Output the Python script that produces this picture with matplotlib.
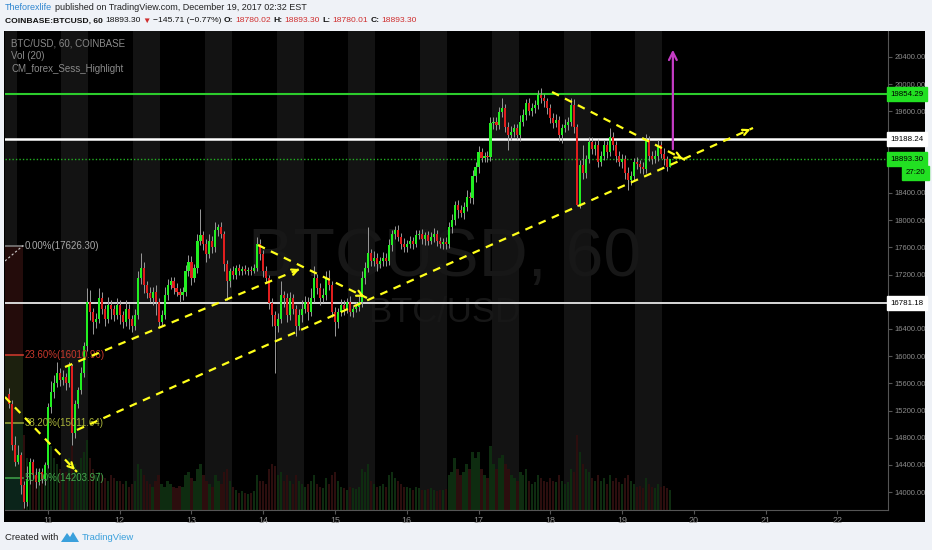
import matplotlib
matplotlib.use("Agg")
import matplotlib.pyplot as plt
from matplotlib.patches import Polygon
import numpy as np

W, H = 932, 550
FONT = ['Liberation Sans', 'DejaVu Sans']

# ---- hourly candles, Dec 10 11:00 -> Dec 19 16:00 (index 0 = Dec 10 11:00)
first_open = 15450
closes = (
    [15300, 14700, 14450, 14550, 14100, 13850, 14200, 14450, 14250, 14150, 14300, 14200, 14400] +
    [15250, 15480, 15600, 15750, 15650, 15700, 15600, 15850, 14870, 15300, 15500, 15760,
     16150, 16800, 16650, 16500, 16550, 16850, 16700, 16550, 16750, 16700, 16600, 16750] +
    [16600, 16500, 16700, 16550, 16450, 16600, 17150, 17300, 17050, 16930, 16850, 16950,
     16800, 16500, 16600, 16900, 17050, 17100, 17000, 16950, 16900, 16950, 17250, 17390] +
    [17150, 17300, 17700, 17780, 17650, 17500, 17700, 17600, 17850, 17900, 17800, 17350,
     17100, 17250, 17200, 17300, 17250, 17280, 17250, 17270, 17260, 17300, 17650, 17500] +
    [17250, 17150, 16780, 16600, 16450, 16550, 16900, 16850, 16600, 16850, 16700, 16450,
     16600, 16700, 16800, 16650, 16850, 17150, 17000, 16850, 16900, 17150, 17050, 16650] +
    [16500, 16650, 16750, 16700, 16800, 16650, 16700, 16720, 16800, 17150, 17300, 17520,
     17400, 17450, 17350, 17400, 17450, 17400, 17640, 17800, 17850, 17750, 17650, 17600] +
    [17650, 17700, 17650, 17780, 17800, 17720, 17780, 17700, 17750, 17800, 17700, 17650,
     17680, 17650, 17900, 18000, 18220, 18150, 18100, 18200, 18340, 18320, 18650, 18780] +
    [19000, 18920, 18950, 18930, 19430, 19450, 19400, 19590, 19650, 19370, 19250, 19300,
     19350, 19250, 19450, 19550, 19720, 19600, 19650, 19700, 19840, 19800, 19750, 19650] +
    [19500, 19430, 19480, 19250, 19350, 19400, 19450, 19700, 19370, 18230, 18810, 18700,
     18900, 19150, 19050, 19100, 18860, 18950, 19100, 19000, 19230, 19100, 18940, 18850] +
    [18900, 18700, 18590, 18650, 18850, 18830, 18780, 18750, 19180, 18950, 18900, 18950,
     19110, 18980, 18900, 18780.02, 18893.30]
)
# wick length above / below the candle body
wick_up = (
    [80, 60, 120, 150, 40, 60, 180, 60, 40, 100, 50, 60, 40] +
    [60, 150, 120, 170, 80, 100, 60, 60, 40, 60, 50, 80, 60, 200, 180, 60, 80, 150, 90, 60, 120, 80, 60, 100] +
    [80, 60, 120, 70, 50, 90, 100, 220, 80, 60, 90, 70, 100, 60, 80, 120, 90, 70, 60, 80, 60, 70, 90, 100] +
    [80, 60, 90, 390, 60, 80, 100, 60, 120, 50, 70, 40, 60, 50, 70, 40, 50, 40, 60, 40, 50, 60, 100, 80] +
    [60, 80, 50, 70, 60, 90, 200, 60, 80, 100, 70, 60, 90, 120, 80, 70, 150, 180, 60, 70, 100, 110, 120, 60] +
    [80, 60, 90, 70, 60, 80, 50, 70, 90, 100, 80, 380, 60, 90, 70, 60, 80, 70, 90, 60, 70, 80, 60, 90] +
    [60, 70, 50, 80, 60, 70, 50, 60, 70, 80, 60, 50, 60, 70, 80, 90, 60, 70, 80, 60, 100, 70, 90, 80] +
    [90, 60, 50, 70, 80, 60, 70, 80, 150, 60, 70, 80, 60, 70, 90, 80, 60, 70, 80, 60, 70, 100, 60, 50] +
    [60, 70, 80, 50, 60, 90, 70, 100, 80, 40, 80, 300, 60, 70, 80, 60, 90, 60, 80, 60, 130, 70, 60, 80] +
    [70, 60, 80, 70, 60, 80, 60, 70, 80, 60, 70, 80, 70, 60, 80, 50, 0]
)
wick_dn = (
    [60, 80, 60, 40, 120, 80, 50, 80, 60, 90, 40, 70, 100] +
    [50, 80, 100, 60, 90, 70, 100, 60, 170, 80, 60, 50, 70, 80, 120, 180, 90, 60, 80, 100, 60, 150, 80, 60] +
    [120, 80, 60, 150, 90, 60, 50, 90, 120, 80, 60, 100, 200, 70, 60, 50, 80, 60, 90, 70, 100, 80, 60, 70] +
    [100, 60, 80, 60, 90, 120, 60, 90, 70, 80, 60, 90, 270, 80, 60, 70, 50, 60, 40, 50, 60, 40, 50, 90] +
    [80, 70, 90, 150, 700, 100, 60, 120, 90, 70, 80, 150, 60, 90, 70, 120, 60, 50, 80, 100, 60, 70, 80, 70] +
    [210, 80, 60, 90, 70, 60, 80, 50, 60, 70, 90, 60, 80, 70, 90, 60, 70, 80, 60, 90, 70, 60, 80, 70] +
    [70, 60, 80, 50, 60, 70, 80, 60, 50, 70, 80, 60, 70, 80, 60, 90, 70, 120, 60, 80, 60, 70, 80, 90] +
    [80, 70, 60, 80, 60, 90, 70, 60, 80, 70, 220, 70, 80, 60, 90, 70, 80, 60, 70, 80, 60, 70, 80, 90] +
    [70, 80, 60, 90, 120, 60, 70, 60, 90, 20, 50, 100, 80, 60, 70, 90, 80, 60, 70, 80, 60, 70, 90, 60] +
    [80, 90, 140, 70, 60, 80, 90, 70, 60, 80, 70, 60, 80, 70, 90, 60, 0]
)
volumes = (
    [900, 1100, 1000, 800, 1200, 1300, 900, 700, 600, 650, 700, 600, 800] +
    [1500, 1100, 900, 800, 700, 600, 650, 900, 1100, 800, 700, 900, 1000, 1200, 900, 700, 600, 650, 600, 550, 500, 600, 550, 500] +
    [500, 450, 500, 400, 450, 500, 800, 700, 600, 500, 450, 400, 500, 600, 450, 400, 500, 450, 400, 380, 420, 400, 600, 650] +
    [550, 500, 700, 800, 600, 500, 450, 400, 600, 500, 450, 650, 700, 500, 400, 350, 300, 320, 300, 280, 300, 320, 600, 500] +
    [500, 450, 700, 800, 750, 600, 650, 500, 600, 500, 450, 600, 500, 450, 400, 450, 500, 600, 450, 400, 380, 550, 450, 600] +
    [650, 500, 400, 380, 350, 400, 380, 360, 400, 700, 650, 800, 500, 450, 400, 420, 450, 400, 600, 650, 550, 500, 450, 400] +
    [400, 380, 350, 400, 380, 350, 340, 360, 380, 350, 330, 350, 340, 360, 600, 650, 900, 700, 600, 650, 800, 700, 1000, 900] +
    [1000, 700, 600, 550, 1100, 800, 700, 900, 950, 800, 700, 600, 550, 500, 650, 600, 700, 500, 450, 480, 600, 550, 500, 480] +
    [550, 500, 480, 600, 500, 450, 480, 700, 650, 1300, 1000, 800, 700, 650, 550, 500, 600, 500, 550, 450, 600, 500, 550, 480] +
    [450, 550, 600, 500, 450, 400, 420, 380, 550, 450, 400, 380, 450, 400, 420, 380, 350]
)

day_labels = [str(d) for d in range(11, 23)]
first_hour = 11           # first candle: Dec 10, 11:00
sess_start, sess_end = 5, 14
sess_days = list(range(10, 20))

# horizontal levels
lvl_green, lvl_white_hi, lvl_last, lvl_white_lo = 19854.29, 19188.24, 18893.30, 16781.18
countdown = '27:20'

# fibonacci retracement
fib_pct = ['0.00%', '23.60%', '38.20%', '50.00%']
fib_price = [17626.30, 16010.96, 15011.64, 14203.97]
fib_line_col = ['#7a7a7a', '#c8382c', '#8f9c36', '#3d9b45']
fib_text_col = ['#a8a8a8', '#c8382c', '#a9b33a', '#45a84d']
fib_zone_col = ['#240c0b', '#1c200e', '#0f2513', '#0b241a']
fib_k_end = 4.65

# hand-drawn trend lines (candle index, price)
trend_lines = [
    ((-1.4, 15400), (22.7, 14297)),
    ((22.7, 14915), (248.8, 19356)),
    ((18.7, 15841), (98.0, 17297)),
    ((83.2, 17635), (119.7, 16856)),
    ((181.6, 19885), (226.1, 18885)),
]
target_arrow = ((222.0, 19003), (222.0, 20547))

# ------------------------------------------------------------------
def fx(px):
    return px / W

def fy(py):
    return 1 - py / H

opens = [first_open] + closes[:-1]
n = len(closes)
k = np.arange(n)
o = np.array(opens, float)
c = np.array(closes, float)
hi = np.maximum(o, c) + np.array(wick_up)
lo = np.minimum(o, c) - np.array(wick_dn)
up = c >= o

fig = plt.figure(figsize=(9.32, 5.5), dpi=100)
fig.patch.set_facecolor('#eff2f7')

frame = fig.add_axes([fx(4), fy(522), fx(925) - fx(4), fy(31) - fy(522)])
frame.set_facecolor('black')
frame.set_xticks([]); frame.set_yticks([])
for s in frame.spines.values():
    s.set_visible(False)

ax = fig.add_axes([fx(5), fy(510), fx(888) - fx(5), fy(31) - fy(510)])
vax = ax.twinx()
ax.set_zorder(2); vax.set_zorder(1)
ax.patch.set_visible(False)
vax.set_facecolor('black')
ax.set_xlim(-1.37, 293.95)
ax.set_ylim(13738, 20782)

# session highlight
for d in sess_days:
    k0 = (d - 10) * 24 + sess_start - first_hour
    vax.axvspan(k0 - 0.5, k0 + (sess_end - sess_start) - 0.5, color='#131313', lw=0, zorder=0)

# volume
vol_col = np.where(up, '#0e2c10', '#2c0e0e')
vax.bar(k, volumes, width=0.75, color=vol_col, zorder=1)
vax.set_ylim(0, max(volumes) * 5.5)
vax.set_yticks([])
for s in vax.spines.values():
    s.set_visible(False)

# watermark
ax.text(0.498, 0.526, 'BTCUSD, 60', transform=ax.transAxes, ha='center', va='center',
        fontsize=49, color='#171717', family=FONT, zorder=0.5)
ax.text(0.498, 0.413, 'BTC/USD', transform=ax.transAxes, ha='center', va='center',
        fontsize=25, color='#171717', family=FONT, zorder=0.5)

# fibonacci zones
bottom = ax.get_ylim()[0]
edges = fib_price + [bottom]
for i, col in enumerate(fib_zone_col):
    ax.fill_between([-1.37, fib_k_end], edges[i + 1], edges[i], color=col, lw=0, zorder=0.6)
for pct, p, lc, tc in zip(fib_pct, fib_price, fib_line_col, fib_text_col):
    ax.plot([-1.37, fib_k_end], [p, p], color=lc, lw=1.2, zorder=0.7)
    ax.text(fib_k_end + 0.6, p, f'{pct}({p:.2f})', color=tc, fontsize=7, va='center',
            family=FONT, zorder=6)
ax.plot([-1.37, fib_k_end], [17400, fib_price[0]], color='#d0d0d0', lw=0.8,
        dashes=(2, 2), zorder=0.8)

# horizontal levels
ax.axhline(lvl_green, color='#2ccc2c', lw=1.5, zorder=3)
ax.axhline(lvl_white_hi, color='#ffffff', lw=1.8, zorder=3)
ax.axhline(lvl_last, color='#22b022', lw=1.0, dashes=(1, 1.5), zorder=3)
ax.axhline(lvl_white_lo, color='#d8d8d8', lw=1.4, zorder=3)

# candles
ax.vlines(k, lo, hi, color='#9a9a9a', lw=0.7, zorder=4)
body_lo = np.minimum(o, c)
body_h = np.maximum(np.abs(c - o), 12)
ax.bar(k, body_h, bottom=body_lo, width=0.7, color=np.where(up, '#22ee22', '#e01e1e'),
       lw=0, zorder=5)

# trend lines
fig.canvas.draw()
for (x0, y0), (x1, y1) in trend_lines:
    ax.plot([x0, x1], [y0, y1], color='#ffff1a', lw=1.6, dashes=(3.5, 3), zorder=6)
    p0 = ax.transData.transform((x0, y0)); p1 = ax.transData.transform((x1, y1))
    f = 9 / np.hypot(*(p1 - p0))
    xb, yb = x1 + (x0 - x1) * f, y1 + (y0 - y1) * f
    ax.annotate('', xy=(x1, y1), xytext=(xb, yb),
                arrowprops=dict(arrowstyle='->', color='#ffff1a', lw=1.6, mutation_scale=10),
                zorder=6)
(ax0, ay0), (ax1, ay1) = target_arrow
ax.annotate('', xy=(ax1, ay1), xytext=(ax0, ay0),
            arrowprops=dict(arrowstyle='->', color='#c43cc4', lw=1.6, mutation_scale=14),
            zorder=7)

# axes styling
day_k = [(int(d) - 10) * 24 - first_hour for d in day_labels]
ax.set_xticks(day_k)
ax.set_xticklabels(day_labels, family=FONT, fontsize=6.5, color='#8c8c8c')
tagged = (19200, 18800, 16800)
yt = [v for v in range(14000, 20401, 400) if v not in tagged]
ax.yaxis.tick_right()
ax.set_yticks(yt)
ax.set_yticklabels([f'{v:.2f}' for v in yt], family=FONT, fontsize=5.5, color='#8c8c8c')
ax.tick_params(axis='both', colors='#555555', length=3, width=0.8, pad=2)
ax.tick_params(axis='x', labelcolor='#8c8c8c', pad=1.5)
ax.tick_params(axis='y', labelcolor='#8c8c8c', pad=1.5)
for name, s in ax.spines.items():
    s.set_visible(name in ('right', 'bottom'))
    s.set_color('#555555')


def tag(price, text, fc, dx=1.6):
    ax.annotate(text, xy=(1.0, price), xycoords=('axes fraction', 'data'),
                xytext=(dx, 0), textcoords='offset points', ha='left', va='center',
                fontsize=5.7, family=FONT, color='black', annotation_clip=False,
                bbox=dict(boxstyle='square,pad=0.45', fc=fc, ec=fc), zorder=10)


tag(lvl_green, f'{lvl_green:.2f}', '#22e022')
tag(lvl_white_hi, f'{lvl_white_hi:.2f}', '#ffffff')
tag(lvl_last, f'{lvl_last:.2f}', '#22e022')
tag(lvl_white_lo, f'{lvl_white_lo:.2f}', '#ffffff')
tag(18700, countdown, '#22e022', dx=13)

# legend inside chart
for i, t in enumerate(['BTC/USD, 60, COINBASE', 'Vol (20)', 'CM_forex_Sess_Highlight']):
    fig.text(fx(11), fy(44 + 12.3 * i), t, color='#8a8a8a', fontsize=7, family=FONT, va='center')


def text_row(y, pieces, size, start=5, gap=3):
    """Lay out differently coloured text pieces one after another."""
    r = fig.canvas.get_renderer()
    x = start
    for t, col, wt in pieces:
        txt = fig.text(fx(x), fy(y), t, color=col, fontsize=size, family=FONT,
                       fontweight=wt, va='center')
        x += txt.get_window_extent(renderer=r).width + gap


dark, red, blue = '#111111', '#cf2e2e', '#2f86d0'
text_row(8, [('Theforexlife', blue, 'normal'),
             ('published on TradingView.com, December 19, 2017 02:32 EST', '#222222', 'normal')], 6.5)
text_row(21, [('COINBASE:BTCUSD, 60', dark, 'bold'), ('18893.30', dark, 'normal'),
              ('▼', red, 'normal'), ('−145.71 (−0.77%)', dark, 'normal'),
              ('O:', dark, 'bold'), ('18780.02', red, 'normal'),
              ('H:', dark, 'bold'), ('18893.30', red, 'normal'),
              ('L:', dark, 'bold'), ('18780.01', red, 'normal'),
              ('C:', dark, 'bold'), ('18893.30', red, 'normal')], 6.1, gap=2.2)

# footer
fig.text(fx(5), fy(538), 'Created with', color='#222222', fontsize=6.8, family=FONT, va='center')
logo = Polygon([[fx(61), fy(542)], [fx(67), fy(533)], [fx(70), fy(537)], [fx(73), fy(532)],
                [fx(79), fy(542)]], closed=True, transform=fig.transFigure, fc='#3aa0dc', ec='none')
fig.patches.append(logo)
fig.text(fx(82), fy(538), 'TradingView', color='#3aa0dc', fontsize=6.8, family=FONT, va='center')

fig.savefig('out.png', dpi=100, facecolor=fig.get_facecolor())
